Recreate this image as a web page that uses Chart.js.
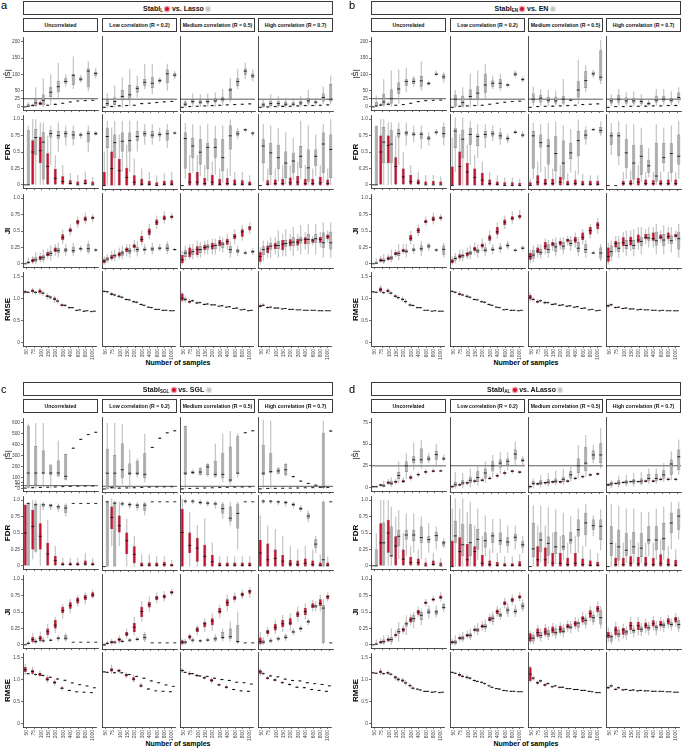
<!DOCTYPE html>
<html>
<head>
<meta charset="utf-8">
<script src="https://cdn.jsdelivr.net/npm/chart.js@4.4.1/dist/chart.umd.min.js"></script>
<style>
  body { margin: 0; background: #fff; font-family: "Liberation Sans", Arial, sans-serif; }
  #fig { position: relative; width: 684px; height: 750px; overflow: hidden; background: #fff; }
  #fig canvas { position: absolute; }
  .frame { position: absolute; box-sizing: border-box; border: 1px solid #3a3a3a; display: flex;
           align-items: center; justify-content: center; font-weight: bold; white-space: nowrap; color: #111; }
  .letter { position: absolute; font-size: 11px; line-height: 11px; color: #000; }
  .xtitle { position: absolute; width: 200px; text-align: center; font-size: 7px; font-weight: bold; color: #000; }
  .dot { display: inline-block; width: 4px; height: 4px; border-radius: 50%; margin: 0 2.5px; vertical-align: -0.5px; }
  .dot.red { background: #d0102e; box-shadow: 0 0 0 1.2px #f3a3ad; }
  .dot.grey { background: #c4c4c4; box-shadow: 0 0 0 1.2px #e4e4e4; }
  .sub { font-size: 4.5px; position: relative; top: 1.5px; }
</style>
</head>
<body>
<div id="fig"></div>
<script>
// boxes are [lower whisker, q1, median, q3, upper whisker], one column of 10 per correlation level
const samples = ['50', '75', '100', '150', '200', '300', '400', '600', '800', '1000'];
const columns = ['Uncorrelated', 'Low correlation (R = 0.2)', 'Medium correlation (R = 0.5)', 'High correlation (R = 0.7)'];
const metrics = ['|Ŝ|', 'FDR', 'JI', 'RMSE'];
const sizeTicksAB = [0, 25, 50, 100, 150, 200];
const sizeTicksC = [0, 25, 50, 100, 200, 300, 400, 500, 600];
const sizeTicksD = [0, 25, 50, 75];
const rateTicks = [0, 0.25, 0.5, 0.75, 1];
const rmseTicks = [0, 0.5, 1, 1.5];

// ---- panel a : Stabl_L vs Lasso
const sizeA_stabl = [
  [[0,0,0,1,3],[1,2,4,7,10],[4,6,10,15,22],[3,4,5,6,8],[5,6,8,9,11],[9,10,11,12,14],[13,14,15,16,18],[17,18,18,19,20],[18,19,19,20,21],[19,20,20,21,22]],
  [[0,0,1,2,4],[1,2,3,5,7],[3,4,5,7,9],[4,5,6,7,9],[5,6,7,8,10],[9,10,12,13,15],[11,12,13,14,16],[13,14,15,16,18],[15,16,17,18,20],[17,18,18,19,21]],
  [[0,0,1,2,3],[1,2,3,4,6],[2,3,4,5,7],[3,4,5,6,7],[3,5,6,7,9],[4,6,7,8,10],[6,7,8,9,11],[7,8,9,10,12],[8,9,10,11,12],[9,10,11,12,13]],
  [[0,0,1,2,3],[0,1,2,3,5],[1,2,3,4,6],[1,2,4,5,7],[2,3,4,5,7],[2,4,5,6,8],[3,5,6,7,9],[4,5,6,7,9],[5,6,7,8,10],[5,7,8,9,11]]
];
const sizeA_other = [
  [[0,0,2,8,15],[0,3,12,25,60],[0,5,20,38,88],[5,30,45,62,100],[25,45,62,80,135],[62,72,78,88,100],[55,68,97,100,155],[75,80,85,90,98],[48,60,110,118,140],[88,96,103,108,120]],
  [[0,5,12,25,42],[0,8,18,30,65],[0,22,33,52,90],[5,22,38,67,115],[30,45,57,65,95],[55,65,75,85,130],[40,58,72,90,130],[70,76,80,84,90],[50,72,100,113,130],[85,92,96,102,108]],
  [[0,5,10,18,25],[2,12,18,25,42],[2,10,16,22,40],[2,12,18,25,42],[2,15,20,28,45],[5,18,25,32,55],[15,25,52,59,88],[55,64,77,87,115],[85,97,108,116,133],[78,87,94,101,113]],
  [[0,2,8,14,25],[0,5,12,20,40],[0,5,12,20,35],[0,5,10,18,30],[2,6,10,16,28],[2,8,14,20,35],[5,12,20,28,52],[5,12,16,20,28],[10,18,30,42,62],[10,18,25,70,95]]
];
const fdrA_stabl = [
  [[0,0,0,0,0],[0,0,0.5,0.68,1.0],[0,0.33,0.52,0.73,0.95],[0,0,0.28,0.48,0.75],[0,0,0.1,0.24,0.45],[0,0,0.05,0.13,0.3],[0,0,0.02,0.07,0.18],[0,0,0,0.05,0.15],[0,0,0.02,0.08,0.2],[0,0,0,0.05,0.12]],
  [[0,0,0,0.2,0.5],[0,0,0.25,0.5,0.85],[0,0,0.22,0.39,0.75],[0,0,0.12,0.26,0.6],[0,0,0.05,0.15,0.4],[0,0,0.02,0.1,0.25],[0,0,0.02,0.07,0.2],[0,0,0,0.05,0.15],[0,0,0.02,0.07,0.18],[0,0,0.02,0.08,0.2]],
  [[0,0,0,0,0],[0,0,0.05,0.19,0.45],[0,0,0.05,0.2,0.45],[0,0,0.03,0.11,0.3],[0,0,0.05,0.16,0.35],[0,0,0.02,0.1,0.25],[0,0,0.03,0.11,0.25],[0,0,0.02,0.09,0.2],[0,0,0.02,0.08,0.2],[0,0,0.02,0.06,0.15]],
  [[0,0,0,0,0],[0,0,0.02,0.08,0.25],[0,0,0.03,0.09,0.25],[0,0,0.03,0.1,0.3],[0,0,0.04,0.12,0.3],[0,0,0.05,0.14,0.35],[0,0,0.03,0.1,0.3],[0,0,0.03,0.1,0.25],[0,0,0.04,0.13,0.3],[0,0,0.03,0.09,0.25]]
];
const fdrA_other = [
  [[0,0,0,0.83,0.9],[0,0.45,0.72,0.85,1.0],[0,0.08,0.65,0.8,0.95],[0.3,0.72,0.78,0.83,0.9],[0.5,0.7,0.75,0.82,0.95],[0.6,0.72,0.78,0.82,0.9],[0.6,0.7,0.76,0.82,0.9],[0.7,0.74,0.76,0.78,0.8],[0.5,0.65,0.78,0.82,0.9],[0.75,0.76,0.78,0.8,0.82]],
  [[0,0.55,0.72,0.85,0.95],[0,0.4,0.63,0.75,0.95],[0.2,0.5,0.65,0.78,0.95],[0.2,0.5,0.66,0.78,0.95],[0.5,0.65,0.72,0.8,0.95],[0.6,0.72,0.76,0.8,0.9],[0.6,0.7,0.74,0.8,0.9],[0.65,0.72,0.75,0.78,0.85],[0.55,0.66,0.76,0.82,0.9],[0.75,0.76,0.77,0.78,0.8]],
  [[0.1,0.25,0.69,0.78,0.92],[0.19,0.41,0.58,0.7,0.9],[0.14,0.31,0.49,0.68,0.88],[0.06,0.24,0.56,0.63,0.9],[0.16,0.41,0.56,0.69,0.88],[0.04,0.21,0.41,0.68,0.88],[0.14,0.53,0.73,0.88,0.97],[0.68,0.73,0.76,0.8,0.85],[0.78,0.8,0.82,0.83,0.85],[0.72,0.75,0.77,0.78,0.8]],
  [[0.06,0.33,0.58,0.68,0.9],[0.01,0.16,0.48,0.63,0.88],[0.06,0.24,0.41,0.6,0.85],[0.02,0.11,0.33,0.5,0.78],[0.08,0.19,0.36,0.48,0.7],[0.09,0.26,0.43,0.58,0.95],[0.01,0.06,0.26,0.53,0.88],[0.14,0.29,0.43,0.53,0.75],[0.04,0.19,0.61,0.78,0.9],[0.01,0.11,0.53,0.75,0.97]]
];
const jiA_stabl = [
  [[0,0,0,0.01,0.02],[0,0.02,0.05,0.08,0.12],[0.03,0.06,0.09,0.12,0.17],[0.08,0.12,0.14,0.18,0.23],[0.12,0.18,0.21,0.25,0.3],[0.3,0.36,0.4,0.45,0.52],[0.43,0.48,0.51,0.54,0.6],[0.55,0.6,0.64,0.67,0.72],[0.6,0.65,0.68,0.72,0.78],[0.63,0.68,0.7,0.72,0.76]],
  [[0,0.02,0.05,0.08,0.12],[0.05,0.08,0.1,0.14,0.2],[0.08,0.12,0.15,0.18,0.25],[0.12,0.18,0.22,0.25,0.3],[0.18,0.24,0.27,0.3,0.36],[0.28,0.33,0.37,0.42,0.5],[0.38,0.43,0.48,0.53,0.6],[0.52,0.58,0.62,0.66,0.72],[0.6,0.65,0.68,0.72,0.78],[0.65,0.68,0.7,0.72,0.76]],
  [[0,0.02,0.07,0.14,0.2],[0.08,0.11,0.17,0.25,0.3],[0.1,0.14,0.22,0.27,0.35],[0.15,0.21,0.25,0.29,0.35],[0.15,0.22,0.27,0.32,0.38],[0.2,0.27,0.32,0.36,0.42],[0.22,0.29,0.34,0.38,0.45],[0.3,0.37,0.41,0.45,0.52],[0.35,0.41,0.48,0.52,0.58],[0.45,0.5,0.55,0.56,0.62]],
  [[0,0.04,0.12,0.19,0.25],[0.1,0.17,0.23,0.28,0.35],[0.15,0.23,0.28,0.32,0.4],[0.12,0.21,0.3,0.36,0.45],[0.2,0.27,0.32,0.37,0.45],[0.2,0.28,0.33,0.38,0.45],[0.22,0.3,0.37,0.4,0.48],[0.28,0.32,0.36,0.38,0.42],[0.25,0.32,0.37,0.41,0.48],[0.32,0.37,0.41,0.44,0.5]]
];
const jiA_other = [
  [[0,0,0.02,0.04,0.1],[0,0.03,0.06,0.1,0.18],[0.02,0.06,0.1,0.13,0.22],[0.05,0.12,0.16,0.2,0.28],[0.1,0.16,0.2,0.24,0.32],[0.12,0.18,0.21,0.24,0.3],[0.12,0.17,0.2,0.26,0.32],[0.18,0.21,0.23,0.25,0.28],[0.15,0.18,0.23,0.3,0.35],[0.18,0.2,0.21,0.22,0.24]],
  [[0.02,0.05,0.08,0.11,0.15],[0.05,0.1,0.13,0.16,0.22],[0.08,0.13,0.17,0.2,0.28],[0.1,0.16,0.2,0.24,0.3],[0.12,0.18,0.22,0.26,0.34],[0.15,0.2,0.22,0.25,0.3],[0.15,0.2,0.23,0.26,0.32],[0.2,0.22,0.24,0.26,0.3],[0.15,0.2,0.24,0.3,0.34],[0.2,0.21,0.22,0.23,0.24]],
  [[0.05,0.11,0.17,0.21,0.28],[0.08,0.14,0.19,0.23,0.3],[0.1,0.17,0.22,0.27,0.33],[0.15,0.22,0.26,0.3,0.36],[0.15,0.23,0.28,0.31,0.38],[0.18,0.24,0.3,0.33,0.4],[0.1,0.17,0.22,0.27,0.35],[0.12,0.17,0.2,0.23,0.28],[0.14,0.16,0.17,0.19,0.21],[0.14,0.17,0.19,0.21,0.24]],
  [[0.05,0.14,0.22,0.27,0.35],[0.1,0.22,0.27,0.32,0.4],[0.1,0.23,0.28,0.35,0.5],[0.12,0.26,0.31,0.36,0.52],[0.12,0.27,0.33,0.4,0.55],[0.15,0.31,0.36,0.41,0.58],[0.15,0.3,0.37,0.45,0.6],[0.15,0.32,0.38,0.45,0.6],[0.1,0.24,0.32,0.47,0.62],[0.1,0.22,0.32,0.48,0.62]]
];
const rmseA_stabl = [
  [[1.1,1.13,1.15,1.17,1.2],[1.1,1.14,1.17,1.2,1.24],[1.08,1.12,1.16,1.2,1.24],[0.98,1.03,1.05,1.08,1.12],[0.9,0.96,0.98,1.02,1.06],[0.8,0.83,0.85,0.87,0.9],[0.76,0.78,0.79,0.8,0.82],[0.71,0.72,0.73,0.74,0.75],[0.69,0.7,0.71,0.72,0.73],[0.69,0.7,0.7,0.71,0.72]],
  [[1.1,1.12,1.13,1.14,1.16],[1.02,1.05,1.07,1.09,1.12],[0.98,1.0,1.02,1.04,1.06],[0.92,0.94,0.95,0.96,0.98],[0.87,0.89,0.9,0.91,0.93],[0.81,0.83,0.84,0.85,0.87],[0.76,0.77,0.78,0.79,0.8],[0.71,0.72,0.73,0.74,0.75],[0.7,0.7,0.71,0.72,0.72],[0.69,0.7,0.7,0.71,0.71]],
  [[0.88,0.92,0.98,1.08,1.12],[0.85,0.88,0.9,0.92,0.96],[0.84,0.86,0.87,0.89,0.92],[0.82,0.83,0.84,0.85,0.87],[0.81,0.82,0.83,0.84,0.85],[0.79,0.8,0.8,0.81,0.82],[0.77,0.78,0.78,0.79,0.8],[0.74,0.75,0.75,0.76,0.77],[0.71,0.72,0.72,0.73,0.74],[0.69,0.7,0.7,0.71,0.71]],
  [[0.76,0.78,0.8,0.83,0.86],[0.75,0.76,0.77,0.78,0.8],[0.74,0.75,0.76,0.77,0.78],[0.73,0.74,0.74,0.75,0.76],[0.72,0.73,0.73,0.74,0.75],[0.71,0.72,0.72,0.73,0.73],[0.7,0.71,0.71,0.72,0.72],[0.7,0.71,0.71,0.71,0.72],[0.69,0.7,0.7,0.71,0.71],[0.69,0.7,0.7,0.7,0.71]]
];
const rmseA_other = [
  [[1.12,1.13,1.14,1.15,1.16],[1.1,1.12,1.14,1.15,1.17],[1.06,1.1,1.12,1.14,1.18],[0.97,1.0,1.03,1.05,1.08],[0.88,0.92,0.94,0.96,1.0],[0.81,0.83,0.84,0.86,0.88],[0.77,0.78,0.79,0.8,0.81],[0.72,0.73,0.74,0.74,0.75],[0.71,0.72,0.72,0.73,0.73],[0.7,0.71,0.71,0.72,0.72]],
  [[1.09,1.11,1.12,1.13,1.14],[1.02,1.04,1.05,1.06,1.08],[0.97,0.99,1.0,1.01,1.03],[0.92,0.93,0.94,0.95,0.97],[0.86,0.88,0.89,0.9,0.92],[0.8,0.81,0.82,0.83,0.85],[0.75,0.76,0.77,0.78,0.79],[0.72,0.72,0.73,0.74,0.74],[0.7,0.71,0.71,0.72,0.72],[0.69,0.7,0.7,0.71,0.71]],
  [[0.88,0.92,0.95,0.98,1.02],[0.89,0.91,0.92,0.93,0.95],[0.85,0.87,0.88,0.89,0.91],[0.83,0.84,0.85,0.86,0.88],[0.81,0.82,0.83,0.84,0.85],[0.79,0.8,0.81,0.82,0.83],[0.77,0.78,0.79,0.8,0.81],[0.75,0.75,0.76,0.77,0.78],[0.72,0.72,0.73,0.74,0.74],[0.7,0.71,0.71,0.72,0.72]],
  [[0.79,0.81,0.82,0.84,0.87],[0.76,0.77,0.78,0.79,0.8],[0.75,0.75,0.76,0.77,0.78],[0.74,0.74,0.75,0.75,0.76],[0.72,0.73,0.73,0.74,0.75],[0.71,0.72,0.72,0.73,0.73],[0.7,0.71,0.71,0.72,0.72],[0.7,0.71,0.71,0.71,0.72],[0.69,0.7,0.7,0.71,0.71],[0.69,0.7,0.7,0.7,0.71]]
];

// ---- panel b : Stabl_EN vs EN
const sizeB_stabl = [
  [[0,0,0,1,2],[3,4,5,8,12],[4,6,8,10,15],[3,4,5,6,7],[5,6,7,8,9],[9,10,11,12,13],[14,15,16,17,18],[17,18,19,20,21],[19,20,20,21,22],[20,20,21,21,22]],
  [[0,0,1,2,3],[1,3,4,5,7],[3,4,5,6,8],[4,5,6,7,9],[5,6,7,8,10],[8,9,10,11,13],[11,12,13,14,16],[14,15,16,17,18],[17,18,18,19,20],[18,19,19,20,21]],
  [[0,0,1,2,3],[1,2,3,4,5],[2,3,4,5,6],[2,3,4,6,7],[3,4,5,6,8],[4,5,6,7,9],[5,6,7,8,10],[7,8,9,10,12],[8,9,10,11,13],[9,10,11,12,14]],
  [[0,0,1,2,3],[1,2,3,4,5],[1,2,3,4,6],[2,3,4,5,7],[2,3,4,5,7],[2,3,4,6,8],[3,4,5,6,8],[3,4,5,6,8],[4,5,6,7,9],[4,5,6,8,10]]
];
const sizeB_other = [
  [[0,0,3,15,35],[0,5,15,40,85],[0,10,25,53,112],[10,40,55,75,115],[45,65,78,85,120],[62,70,78,88,95],[50,62,80,95,140],[65,68,72,76,80],[95,97,100,105,112],[75,85,92,100,108]],
  [[0,3,25,38,52],[0,3,15,35,60],[0,23,33,54,100],[5,27,43,63,110],[25,44,67,100,130],[55,62,72,80,95],[50,58,72,84,100],[60,64,67,70,73],[90,94,99,104,110],[75,80,83,87,92]],
  [[5,15,25,42,62],[5,15,28,38,55],[5,15,22,32,52],[5,12,20,32,50],[5,12,25,35,85],[18,21,22,24,28],[10,30,52,78,142],[45,58,80,108,125],[88,95,100,106,112],[70,80,90,170,200]],
  [[5,12,20,28,40],[5,15,25,38,55],[5,12,20,30,45],[5,12,20,28,48],[5,10,18,25,40],[5,8,12,16,25],[5,15,22,35,55],[8,18,25,35,55],[8,15,22,28,48],[12,22,30,45,60]]
];
const fdrB_stabl = [
  [[0,0,0,0,0],[0,0,0.5,0.75,1.0],[0,0.33,0.6,0.75,0.95],[0,0,0.28,0.42,0.75],[0,0,0.12,0.25,0.5],[0,0,0.05,0.15,0.3],[0,0,0.03,0.08,0.2],[0,0,0,0.05,0.15],[0,0,0,0.06,0.15],[0,0,0,0.05,0.13]],
  [[0,0,0,0.28,0.7],[0,0,0.28,0.5,0.75],[0,0,0.2,0.33,0.6],[0,0,0.12,0.25,0.45],[0,0,0.08,0.19,0.35],[0,0,0.03,0.09,0.2],[0,0,0.02,0.06,0.15],[0,0,0,0.05,0.12],[0,0,0,0.05,0.12],[0,0,0,0.04,0.1]],
  [[0,0,0,0.05,0.1],[0,0,0.05,0.15,0.35],[0,0,0.03,0.1,0.28],[0,0,0.03,0.1,0.25],[0,0,0.05,0.13,0.3],[0,0,0.02,0.07,0.18],[0,0,0.03,0.09,0.22],[0,0,0.02,0.07,0.17],[0,0,0.02,0.07,0.15],[0,0,0.02,0.07,0.15]],
  [[0,0,0,0,0],[0,0,0,0,0],[0,0,0.03,0.07,0.2],[0,0,0.03,0.08,0.22],[0,0,0.05,0.11,0.3],[0,0,0.03,0.09,0.2],[0,0,0.03,0.08,0.2],[0,0,0.03,0.08,0.2],[0,0,0.03,0.09,0.2],[0,0,0.03,0.09,0.2]]
];
const fdrB_other = [
  [[0,0,0,0.9,0.9],[0,0.33,0.65,0.88,1.0],[0,0.33,0.62,0.83,0.95],[0.3,0.72,0.78,0.85,0.95],[0.6,0.75,0.79,0.82,0.95],[0.65,0.74,0.77,0.8,0.9],[0.55,0.7,0.77,0.8,0.9],[0.6,0.68,0.71,0.74,0.8],[0.75,0.78,0.8,0.82,0.85],[0.6,0.72,0.78,0.88,0.95]],
  [[0.2,0.55,0.8,0.85,1.0],[0,0.4,0.68,0.82,1.0],[0.3,0.6,0.75,0.85,0.95],[0.4,0.58,0.72,0.76,0.9],[0.55,0.7,0.75,0.8,0.9],[0.65,0.72,0.76,0.8,0.88],[0.6,0.68,0.73,0.78,0.85],[0.62,0.66,0.69,0.72,0.76],[0.75,0.77,0.78,0.8,0.82],[0.7,0.72,0.74,0.76,0.8]],
  [[0.1,0.25,0.73,0.8,0.92],[0.19,0.56,0.63,0.75,0.9],[0.09,0.31,0.58,0.68,0.92],[0.03,0.21,0.47,0.73,0.94],[0.01,0.09,0.33,0.66,0.88],[0.19,0.39,0.48,0.63,0.83],[0.16,0.43,0.66,0.8,0.97],[0.6,0.68,0.74,0.81,0.87],[0.8,0.81,0.82,0.83,0.85],[0.73,0.77,0.81,0.86,0.94]],
  [[0.45,0.6,0.73,0.78,0.92],[0.3,0.43,0.73,0.78,0.95],[0.1,0.26,0.48,0.68,0.9],[0.02,0.09,0.33,0.6,0.9],[0.05,0.16,0.43,0.59,0.85],[0.12,0.19,0.29,0.38,0.55],[0.01,0.06,0.14,0.63,0.9],[0.2,0.33,0.41,0.63,0.85],[0.05,0.19,0.47,0.62,0.88],[0.1,0.31,0.43,0.75,0.95]]
];
const jiB_stabl = [
  [[0,0,0,0,0.02],[0.02,0.03,0.05,0.08,0.12],[0.04,0.06,0.08,0.11,0.15],[0.1,0.13,0.15,0.18,0.22],[0.15,0.18,0.2,0.23,0.3],[0.3,0.35,0.39,0.44,0.5],[0.42,0.47,0.51,0.55,0.6],[0.58,0.62,0.64,0.67,0.72],[0.6,0.65,0.68,0.72,0.78],[0.65,0.68,0.7,0.72,0.76]],
  [[0,0.02,0.05,0.08,0.12],[0.05,0.09,0.12,0.15,0.22],[0.08,0.12,0.16,0.18,0.25],[0.15,0.2,0.23,0.26,0.33],[0.2,0.25,0.28,0.31,0.38],[0.3,0.35,0.39,0.43,0.5],[0.38,0.44,0.48,0.55,0.62],[0.52,0.58,0.62,0.66,0.72],[0.6,0.65,0.68,0.71,0.78],[0.65,0.68,0.71,0.73,0.8]],
  [[0.02,0.07,0.12,0.17,0.22],[0.1,0.17,0.2,0.25,0.3],[0.15,0.22,0.27,0.33,0.38],[0.2,0.27,0.3,0.33,0.38],[0.22,0.28,0.32,0.35,0.4],[0.28,0.33,0.36,0.38,0.42],[0.25,0.32,0.36,0.41,0.47],[0.3,0.36,0.4,0.47,0.52],[0.38,0.44,0.5,0.55,0.6],[0.45,0.52,0.58,0.62,0.68]],
  [[0,0.04,0.12,0.25,0.32],[0.18,0.25,0.31,0.35,0.42],[0.18,0.27,0.32,0.4,0.48],[0.2,0.28,0.35,0.41,0.5],[0.22,0.32,0.36,0.44,0.55],[0.3,0.37,0.4,0.45,0.52],[0.25,0.35,0.38,0.47,0.55],[0.32,0.37,0.4,0.44,0.5],[0.3,0.37,0.41,0.47,0.55],[0.35,0.4,0.42,0.45,0.5]]
];
const jiB_other = [
  [[0,0,0.01,0.03,0.08],[0,0.02,0.05,0.08,0.15],[0.02,0.06,0.09,0.12,0.22],[0.05,0.12,0.16,0.19,0.3],[0.1,0.16,0.19,0.22,0.3],[0.15,0.19,0.21,0.24,0.3],[0.12,0.19,0.23,0.28,0.35],[0.2,0.24,0.27,0.3,0.32],[0.18,0.2,0.21,0.22,0.24],[0.1,0.14,0.22,0.28,0.32]],
  [[0.02,0.06,0.09,0.12,0.17],[0.05,0.1,0.13,0.16,0.22],[0.08,0.14,0.17,0.2,0.28],[0.1,0.17,0.2,0.23,0.3],[0.12,0.18,0.21,0.25,0.32],[0.15,0.2,0.22,0.25,0.3],[0.17,0.22,0.24,0.27,0.32],[0.22,0.25,0.28,0.31,0.35],[0.18,0.2,0.21,0.22,0.24],[0.2,0.23,0.24,0.26,0.28]],
  [[0.03,0.09,0.14,0.21,0.28],[0.08,0.14,0.18,0.23,0.3],[0.1,0.17,0.22,0.3,0.36],[0.12,0.19,0.26,0.32,0.4],[0.15,0.22,0.27,0.33,0.4],[0.2,0.27,0.31,0.36,0.42],[0.12,0.19,0.24,0.33,0.4],[0.1,0.17,0.22,0.3,0.36],[0.15,0.16,0.17,0.18,0.2],[0.05,0.09,0.17,0.25,0.3]],
  [[0.05,0.12,0.19,0.28,0.35],[0.1,0.19,0.24,0.33,0.42],[0.12,0.23,0.28,0.36,0.5],[0.12,0.23,0.28,0.36,0.52],[0.15,0.27,0.34,0.41,0.55],[0.25,0.35,0.39,0.45,0.55],[0.15,0.28,0.35,0.48,0.6],[0.15,0.27,0.36,0.45,0.58],[0.18,0.3,0.35,0.43,0.55],[0.1,0.22,0.38,0.48,0.6]]
];
const rmseB_stabl = [
  [[1.12,1.14,1.15,1.16,1.17],[1.12,1.15,1.2,1.25,1.3],[1.1,1.14,1.17,1.2,1.24],[1.0,1.03,1.05,1.07,1.1],[0.92,0.96,0.98,1.0,1.04],[0.81,0.84,0.85,0.87,0.9],[0.77,0.78,0.79,0.8,0.81],[0.72,0.73,0.73,0.74,0.75],[0.7,0.71,0.71,0.72,0.72],[0.7,0.7,0.71,0.71,0.72]],
  [[1.1,1.12,1.13,1.14,1.16],[1.02,1.05,1.07,1.09,1.13],[0.98,1.0,1.02,1.04,1.07],[0.92,0.94,0.95,0.96,0.98],[0.87,0.89,0.9,0.91,0.93],[0.81,0.83,0.84,0.85,0.87],[0.76,0.77,0.78,0.79,0.8],[0.71,0.72,0.72,0.73,0.74],[0.7,0.7,0.71,0.72,0.72],[0.69,0.7,0.7,0.71,0.71]],
  [[0.9,0.95,1.0,1.05,1.1],[0.86,0.88,0.9,0.92,0.95],[0.84,0.86,0.88,0.9,0.92],[0.82,0.83,0.84,0.85,0.87],[0.8,0.81,0.82,0.83,0.85],[0.78,0.79,0.8,0.81,0.82],[0.76,0.77,0.78,0.79,0.8],[0.74,0.75,0.75,0.76,0.77],[0.71,0.72,0.72,0.73,0.74],[0.69,0.7,0.7,0.71,0.71]],
  [[0.77,0.79,0.81,0.83,0.86],[0.75,0.76,0.77,0.78,0.8],[0.74,0.74,0.75,0.76,0.77],[0.73,0.73,0.74,0.75,0.76],[0.71,0.72,0.72,0.73,0.74],[0.71,0.71,0.72,0.72,0.73],[0.7,0.71,0.71,0.72,0.72],[0.69,0.7,0.7,0.71,0.71],[0.69,0.7,0.7,0.7,0.71],[0.69,0.69,0.7,0.7,0.71]]
];
const rmseB_other = [
  [[1.12,1.13,1.14,1.15,1.16],[1.1,1.12,1.13,1.15,1.17],[1.07,1.1,1.12,1.14,1.17],[0.97,1.0,1.02,1.04,1.07],[0.88,0.91,0.93,0.95,0.99],[0.81,0.83,0.84,0.85,0.87],[0.77,0.78,0.79,0.8,0.81],[0.72,0.73,0.73,0.74,0.75],[0.71,0.72,0.72,0.73,0.73],[0.7,0.71,0.71,0.72,0.72]],
  [[1.08,1.1,1.11,1.12,1.14],[1.02,1.04,1.05,1.06,1.08],[0.97,0.99,1.0,1.01,1.03],[0.92,0.93,0.94,0.95,0.97],[0.86,0.88,0.89,0.9,0.92],[0.8,0.81,0.82,0.83,0.85],[0.75,0.76,0.77,0.78,0.79],[0.72,0.72,0.73,0.74,0.74],[0.7,0.71,0.71,0.72,0.72],[0.7,0.7,0.71,0.71,0.72]],
  [[0.9,0.93,0.95,0.97,1.0],[0.89,0.91,0.92,0.93,0.95],[0.85,0.87,0.88,0.89,0.91],[0.83,0.84,0.85,0.86,0.88],[0.81,0.82,0.83,0.84,0.85],[0.79,0.8,0.81,0.82,0.83],[0.77,0.78,0.79,0.8,0.81],[0.75,0.75,0.76,0.77,0.78],[0.72,0.72,0.73,0.74,0.74],[0.7,0.71,0.71,0.72,0.72]],
  [[0.8,0.82,0.83,0.85,0.87],[0.76,0.77,0.78,0.79,0.8],[0.75,0.75,0.76,0.77,0.78],[0.73,0.74,0.74,0.75,0.76],[0.72,0.72,0.73,0.74,0.75],[0.71,0.72,0.72,0.73,0.73],[0.7,0.71,0.71,0.72,0.72],[0.7,0.7,0.71,0.71,0.72],[0.69,0.7,0.7,0.71,0.71],[0.69,0.7,0.7,0.7,0.71]]
];

// ---- panel c : Stabl_SGL vs SGL
const sizeC_stabl = [
  [[0,0,2,5,10],[0,3,6,10,15],[3,6,9,12,16],[5,8,11,13,16],[8,11,13,15,18],[12,14,16,18,20],[15,17,18,20,22],[18,19,20,21,23],[19,20,21,22,24],[20,21,22,23,24]],
  [[0,0,1,3,6],[5,8,12,18,30],[3,6,9,12,16],[5,8,11,13,16],[8,10,12,14,17],[11,13,15,17,19],[14,16,18,19,21],[17,18,19,20,22],[18,19,20,21,23],[19,20,21,22,24]],
  [[0,0,2,6,12],[2,4,6,8,10],[4,6,8,10,12],[6,8,10,12,14],[8,10,12,13,15],[10,12,14,15,17],[12,14,16,17,19],[14,16,18,19,21],[16,18,19,20,22],[18,19,20,21,23]],
  [[0,0,2,5,8],[2,4,6,9,12],[3,5,7,9,12],[4,6,8,10,12],[5,7,9,11,13],[6,8,10,12,14],[8,10,12,13,15],[9,11,13,14,16],[10,12,14,15,17],[11,13,15,16,18]]
];
const sizeC_other = [
  [[0,5,140,570,590],[0,30,140,385,595],[10,135,140,345,595],[0,125,140,215,225],[100,110,140,255,435],[70,78,110,313,320],[360,363,366,369,372],[440,443,447,450,453],[485,488,490,493,496],[505,508,511,514,518]],
  [[0,0,140,355,580],[0,5,140,300,580],[40,95,170,400,570],[0,125,140,225,345],[100,125,140,250,270],[60,95,130,315,485],[360,363,366,369,372],[440,443,447,450,453],[488,491,494,497,500],[505,508,512,515,520]],
  [[0,124,140,553,560],[130,136,146,160,175],[120,125,150,183,195],[110,125,195,220,230],[100,110,130,250,400],[60,95,130,315,490],[40,65,80,375,510],[100,140,140,465,490],[490,492,495,498,500],[505,508,512,515,520]],
  [[0,124,140,390,610],[0,139,154,316,600],[130,135,160,183,195],[110,124,170,220,230],[100,105,110,115,120],[65,68,71,74,78],[45,48,50,53,56],[28,32,35,38,42],[0,10,20,495,600],[500,505,510,515,520]]
];
const fdrC_stabl = [
  [[0,0,0.5,0.93,0.95],[0.1,0.25,0.6,0.85,1.0],[0,0.25,0.45,0.65,0.95],[0,0,0.18,0.35,0.7],[0,0,0.08,0.15,0.3],[0,0,0.02,0.05,0.12],[0,0,0.02,0.05,0.12],[0,0,0.02,0.05,0.12],[0,0,0.03,0.08,0.2],[0,0,0.02,0.05,0.12]],
  [[0,0,0,0,0],[0.3,0.55,0.72,0.88,1.0],[0.3,0.5,0.6,0.75,0.95],[0,0.18,0.38,0.5,0.7],[0,0.05,0.18,0.3,0.45],[0,0,0.02,0.06,0.18],[0,0,0.02,0.06,0.18],[0,0,0.02,0.06,0.15],[0,0,0.03,0.07,0.15],[0,0,0.02,0.04,0.1]],
  [[0,0,0.5,0.85,1.0],[0,0.2,0.31,0.5,0.8],[0,0.07,0.27,0.42,0.61],[0,0,0.15,0.32,0.71],[0,0,0.07,0.17,0.35],[0,0,0.02,0.06,0.15],[0,0,0.02,0.06,0.15],[0,0,0.02,0.06,0.15],[0,0,0.02,0.06,0.15],[0,0,0.02,0.06,0.15]],
  [[0,0,0.2,0.39,0.75],[0,0,0.1,0.34,0.6],[0,0,0.12,0.25,0.55],[0,0,0.08,0.17,0.45],[0,0,0.04,0.1,0.3],[0,0,0.03,0.09,0.25],[0,0,0.05,0.12,0.3],[0,0,0.03,0.09,0.25],[0,0,0.02,0.06,0.18],[0,0,0.02,0.06,0.15]]
];
const fdrC_other = [
  [[0,0,0.95,0.95,0.97],[0.2,0.22,0.93,0.95,1.0],[0.85,0.9,0.93,0.95,0.97],[0.85,0.89,0.92,0.94,0.95],[0.82,0.86,0.9,0.92,0.95],[0.75,0.8,0.88,0.93,0.95],[0.95,0.95,0.95,0.95,0.95],[0.95,0.95,0.95,0.95,0.95],[0.95,0.95,0.95,0.95,0.95],[0.95,0.95,0.95,0.95,0.95]],
  [[0,0,0.95,0.95,0.97],[0,0,0.93,0.95,0.97],[0.88,0.9,0.92,0.94,0.96],[0.85,0.88,0.91,0.93,0.95],[0.82,0.86,0.9,0.92,0.95],[0.75,0.82,0.9,0.93,0.95],[0.95,0.95,0.95,0.95,0.95],[0.95,0.95,0.95,0.95,0.95],[0.95,0.95,0.95,0.95,0.95],[0.95,0.95,0.95,0.95,0.95]],
  [[0.92,0.94,0.96,0.97,1.0],[0.92,0.94,0.96,0.97,0.99],[0.9,0.92,0.94,0.96,0.98],[0.88,0.91,0.93,0.95,0.97],[0.85,0.9,0.92,0.94,0.96],[0.7,0.78,0.85,0.92,0.95],[0.6,0.66,0.71,0.88,0.95],[0.25,0.56,0.78,0.92,0.95],[0.95,0.95,0.95,0.95,0.95],[0.95,0.95,0.95,0.95,0.95]],
  [[0.92,0.94,0.96,0.97,0.99],[0.92,0.94,0.96,0.97,0.98],[0.9,0.93,0.95,0.96,0.98],[0.88,0.92,0.94,0.96,0.97],[0.86,0.89,0.91,0.93,0.95],[0.8,0.83,0.85,0.87,0.9],[0.65,0.7,0.74,0.78,0.82],[0.2,0.27,0.33,0.4,0.45],[0,0,0.1,0.95,0.97],[0.95,0.95,0.95,0.95,0.95]]
];
const jiC_stabl = [
  [[0,0,0,0.01,0.02],[0.02,0.04,0.08,0.12,0.18],[0.03,0.06,0.1,0.14,0.2],[0.1,0.15,0.2,0.25,0.32],[0.18,0.25,0.3,0.38,0.42],[0.4,0.48,0.52,0.58,0.62],[0.48,0.55,0.6,0.65,0.7],[0.58,0.63,0.68,0.72,0.76],[0.62,0.68,0.72,0.76,0.8],[0.7,0.73,0.76,0.8,0.84]],
  [[0,0,0.01,0.02,0.04],[0.01,0.03,0.05,0.07,0.1],[0.03,0.06,0.09,0.11,0.15],[0.1,0.14,0.17,0.2,0.25],[0.15,0.2,0.27,0.33,0.42],[0.35,0.42,0.5,0.57,0.65],[0.5,0.56,0.6,0.64,0.72],[0.62,0.67,0.7,0.73,0.78],[0.65,0.69,0.72,0.75,0.8],[0.73,0.76,0.78,0.8,0.83]],
  [[0,0.02,0.05,0.08,0.1],[0.08,0.1,0.13,0.15,0.18],[0.15,0.2,0.23,0.27,0.3],[0.2,0.27,0.32,0.35,0.4],[0.22,0.3,0.36,0.4,0.47],[0.4,0.47,0.5,0.55,0.6],[0.5,0.58,0.63,0.68,0.75],[0.63,0.67,0.7,0.73,0.78],[0.68,0.72,0.75,0.78,0.82],[0.7,0.76,0.8,0.82,0.86]],
  [[0,0.02,0.06,0.12,0.2],[0.13,0.17,0.2,0.23,0.27],[0.17,0.22,0.27,0.32,0.38],[0.2,0.27,0.32,0.38,0.45],[0.22,0.3,0.33,0.4,0.48],[0.35,0.42,0.46,0.5,0.57],[0.38,0.45,0.5,0.55,0.62],[0.5,0.55,0.58,0.62,0.67],[0.5,0.58,0.62,0.68,0.75],[0.65,0.68,0.72,0.74,0.78]]
];
const jiC_other = [
  [[0,0.01,0.02,0.04,0.06],[0.01,0.03,0.05,0.07,0.1],[0.03,0.05,0.06,0.08,0.12],[0.05,0.06,0.07,0.08,0.1],[0.05,0.08,0.1,0.12,0.15],[0.05,0.07,0.1,0.15,0.18],[0.04,0.04,0.04,0.04,0.04],[0.04,0.04,0.04,0.04,0.04],[0.04,0.04,0.04,0.04,0.04],[0.04,0.04,0.04,0.04,0.04]],
  [[0.01,0.02,0.03,0.05,0.07],[0.02,0.03,0.05,0.06,0.08],[0.04,0.05,0.06,0.08,0.1],[0.05,0.06,0.08,0.09,0.11],[0.06,0.08,0.09,0.11,0.13],[0.05,0.08,0.12,0.17,0.2],[0.04,0.04,0.04,0.04,0.04],[0.04,0.04,0.04,0.04,0.04],[0.04,0.04,0.04,0.04,0.04],[0.04,0.04,0.04,0.04,0.04]],
  [[0.01,0.03,0.05,0.07,0.1],[0.04,0.06,0.08,0.09,0.12],[0.04,0.06,0.07,0.08,0.1],[0.05,0.07,0.08,0.1,0.12],[0.05,0.07,0.1,0.13,0.17],[0.06,0.1,0.12,0.2,0.25],[0.06,0.1,0.13,0.25,0.35],[0.02,0.04,0.06,0.3,0.5],[0.04,0.04,0.04,0.04,0.04],[0.04,0.04,0.04,0.04,0.04]],
  [[0.01,0.03,0.05,0.08,0.12],[0.03,0.05,0.07,0.09,0.12],[0.06,0.08,0.1,0.12,0.14],[0.07,0.1,0.12,0.15,0.18],[0.15,0.18,0.2,0.22,0.25],[0.2,0.23,0.25,0.27,0.3],[0.3,0.33,0.35,0.37,0.4],[0.5,0.55,0.58,0.6,0.65],[0.02,0.04,0.55,0.6,0.68],[0.04,0.04,0.04,0.04,0.04]]
];
const rmseC_stabl = [
  [[1.1,1.17,1.22,1.28,1.35],[1.1,1.13,1.18,1.22,1.28],[1.05,1.08,1.12,1.15,1.2],[0.92,0.97,1.0,1.05,1.1],[0.85,0.9,0.93,0.96,1.0],[0.74,0.78,0.8,0.82,0.85],[0.73,0.74,0.75,0.76,0.77],[0.7,0.71,0.72,0.72,0.73],[0.7,0.7,0.71,0.71,0.72],[0.69,0.7,0.7,0.71,0.71]],
  [[1.12,1.13,1.14,1.15,1.16],[1.1,1.15,1.18,1.22,1.3],[1.1,1.14,1.17,1.19,1.22],[1.0,1.04,1.07,1.1,1.14],[0.9,0.95,0.98,1.02,1.08],[0.78,0.81,0.83,0.86,0.9],[0.74,0.75,0.76,0.77,0.78],[0.71,0.72,0.72,0.73,0.73],[0.7,0.7,0.71,0.71,0.72],[0.69,0.7,0.7,0.71,0.71]],
  [[1.12,1.15,1.17,1.19,1.22],[1.05,1.08,1.1,1.12,1.16],[1.02,1.04,1.06,1.08,1.1],[0.97,0.99,1.01,1.03,1.05],[0.88,0.92,0.95,0.98,1.02],[0.82,0.84,0.85,0.87,0.9],[0.76,0.78,0.8,0.82,0.86],[0.73,0.74,0.75,0.76,0.77],[0.7,0.71,0.72,0.73,0.74],[0.7,0.7,0.71,0.72,0.72]],
  [[1.05,1.1,1.14,1.18,1.22],[0.96,0.98,1.0,1.02,1.05],[0.92,0.94,0.96,0.98,1.0],[0.87,0.89,0.9,0.92,0.94],[0.83,0.85,0.86,0.88,0.9],[0.78,0.79,0.8,0.81,0.83],[0.77,0.78,0.79,0.8,0.81],[0.73,0.74,0.75,0.76,0.77],[0.72,0.72,0.73,0.74,0.75],[0.7,0.7,0.71,0.72,0.72]]
];
const rmseC_other = [
  [[1.11,1.12,1.13,1.14,1.15],[1.09,1.1,1.11,1.12,1.14],[1.06,1.08,1.09,1.1,1.12],[1.03,1.04,1.05,1.06,1.07],[0.99,1.0,1.01,1.02,1.03],[0.95,0.97,0.98,0.99,1.0],[0.91,0.92,0.92,0.93,0.94],[0.87,0.88,0.88,0.89,0.9],[0.84,0.85,0.85,0.86,0.86],[0.8,0.81,0.81,0.82,0.82]],
  [[1.11,1.12,1.13,1.14,1.15],[1.1,1.11,1.12,1.13,1.14],[1.1,1.11,1.12,1.13,1.14],[1.06,1.07,1.08,1.09,1.1],[1.02,1.03,1.04,1.05,1.06],[0.98,0.99,1.0,1.01,1.02],[0.92,0.93,0.94,0.95,0.96],[0.88,0.89,0.9,0.9,0.91],[0.84,0.85,0.85,0.86,0.86],[0.81,0.82,0.82,0.83,0.83]],
  [[1.11,1.12,1.13,1.14,1.15],[1.08,1.09,1.1,1.11,1.12],[1.03,1.04,1.05,1.06,1.07],[1.02,1.03,1.04,1.05,1.06],[0.98,0.99,1.0,1.01,1.02],[0.95,0.96,0.97,0.98,0.99],[0.93,0.94,0.95,0.96,0.97],[0.9,0.91,0.91,0.92,0.93],[0.89,0.9,0.9,0.91,0.92],[0.86,0.87,0.87,0.88,0.88]],
  [[1.07,1.09,1.1,1.12,1.15],[1.03,1.04,1.05,1.06,1.08],[1.01,1.02,1.03,1.04,1.05],[0.96,0.97,0.98,0.99,1.0],[0.93,0.94,0.95,0.96,0.97],[0.92,0.93,0.94,0.95,0.96],[0.88,0.89,0.9,0.91,0.92],[0.86,0.87,0.88,0.88,0.89],[0.85,0.85,0.86,0.87,0.87],[0.82,0.82,0.83,0.84,0.84]]
];

// ---- panel d : Stabl_AL vs ALasso
const sizeD_stabl = [
  [[0,0.5,1,1.5,2],[1,2,3,4,5],[3,4,6,7,10],[4,5,7,8,10],[5,6,7,9,12],[8,10,12,13,15],[12,14,15,16,18],[15,17,18,19,21],[17,18,19,20,22],[18,19,19,20,21]],
  [[0,1,2,3,4],[2,3,4,5,6],[3,5,6,7,9],[5,7,8,9,11],[7,8,9,10,12],[9,10,11,12,14],[11,13,14,15,17],[14,16,17,18,20],[16,18,19,20,21],[16,17,18,19,20]],
  [[0,1,2,3,4],[3,4,5,6,7],[4,5,6.5,7,8],[5,6,7.5,8,9],[5,6,7.5,8,9],[6,7,8,9,10],[9,10,11,12,13],[11,12,13,14,15],[13,14,15,16,17],[14,15,16,17,18]],
  [[2,3,4,5,6],[4,5,5.5,6,7],[5,6,6.7,7,8],[6,7,7.4,8,9],[6,7,7.4,8,9],[6,7,8,9,10],[6,7,8,9,10],[8,9,10,11,12],[8,9,10,11,12],[8,9,10,11,12]]
];
const sizeD_other = [
  [[0,0.5,1,1.5,2],[0,1,2,4,8],[1,3,5,8,12],[5,10,14,18,30],[10,18,25,30,40],[20,28,32,36,52],[22,28,32,45,55],[28,31,33,36,40],[25,32,38,42,50],[30,32,33,35,38]],
  [[0,2,4,7,18],[0,4,6,9,17],[1,6,9,13,22],[3,7,12,19,26],[6,11,17,22,30],[12,19,25,30,37],[16,23,28,32,40],[20,26,30,33,40],[25,32,38,43,52],[25,29,31,33,36]],
  [[0,4,5.5,8,11],[1,4,6,9,15],[2,4.5,7,10,17],[3,6,8,11,20],[4,7,10,13,22],[8,11,15,19,24],[11,17,25,33,48],[13,19,28,46,59],[28,32,37,42,48],[22,28,37,50,67]],
  [[0,3,5,7,9],[1,4,6,9,14],[2,4.5,7,9,15],[2,5,8,10,17],[3,5,8,11,18],[5,8,11,16,22],[5,8,11,16,22],[7,11,15,20,28],[9,15,27,32,41],[15,20,35,43,54]]
];
const fdrD_stabl = [
  [[0,0,0,0,0],[0,0,0.35,0.65,1.0],[0,0.2,0.5,0.7,1.0],[0,0,0.3,0.45,0.75],[0,0,0.1,0.25,0.5],[0,0,0.05,0.14,0.3],[0,0,0.05,0.11,0.25],[0,0,0,0.05,0.12],[0,0,0.02,0.08,0.2],[0,0,0,0.05,0.12]],
  [[0,0,0,0.38,0.85],[0,0,0.22,0.43,0.85],[0,0,0.1,0.33,0.8],[0,0,0.22,0.3,0.6],[0,0,0.05,0.17,0.45],[0,0,0.03,0.09,0.25],[0,0,0.02,0.07,0.2],[0,0,0.02,0.05,0.15],[0,0,0.02,0.05,0.15],[0,0,0.02,0.08,0.18]],
  [[0,0,0,0,0],[0,0,0.1,0.3,0.6],[0,0,0.1,0.28,0.6],[0,0,0.05,0.2,0.5],[0,0,0.05,0.2,0.45],[0,0,0.03,0.13,0.35],[0,0,0.05,0.2,0.45],[0,0,0.03,0.12,0.3],[0,0,0.02,0.09,0.25],[0,0,0.02,0.07,0.2]],
  [[0,0,0,0,0],[0,0,0.03,0.13,0.35],[0,0,0.03,0.13,0.35],[0,0,0.05,0.15,0.4],[0,0,0.04,0.14,0.35],[0,0,0.04,0.14,0.35],[0,0,0.03,0.13,0.35],[0,0,0.05,0.18,0.4],[0,0,0.03,0.12,0.3],[0,0,0.02,0.1,0.25]]
];
const fdrD_other = [
  [[0,0,0,0.25,0.5],[0,0,0.35,0.66,1.0],[0,0.15,0.15,0.6,0.9],[0.1,0.3,0.45,0.55,0.85],[0.15,0.4,0.47,0.55,0.8],[0.2,0.38,0.47,0.55,0.8],[0.1,0.35,0.43,0.6,0.75],[0.2,0.35,0.4,0.45,0.65],[0.25,0.38,0.46,0.52,0.6],[0.27,0.3,0.35,0.38,0.42]],
  [[0,0.35,0.45,0.67,1.0],[0,0.15,0.32,0.63,1.0],[0,0.15,0.35,0.62,0.95],[0.1,0.25,0.4,0.55,0.85],[0.15,0.28,0.38,0.5,0.75],[0.2,0.35,0.45,0.5,0.7],[0.2,0.32,0.38,0.5,0.7],[0.2,0.3,0.36,0.43,0.6],[0.25,0.37,0.43,0.48,0.6],[0.2,0.28,0.32,0.37,0.45]],
  [[0,0.14,0.26,0.64,0.9],[0.06,0.21,0.39,0.5,0.89],[0.04,0.16,0.34,0.44,0.87],[0.04,0.19,0.29,0.51,0.84],[0.09,0.24,0.29,0.46,0.79],[0.19,0.34,0.39,0.51,0.74],[0.2,0.44,0.54,0.69,0.85],[0.29,0.46,0.64,0.79,0.92],[0.45,0.54,0.6,0.69,0.75],[0.24,0.39,0.59,0.69,0.84]],
  [[0,0.16,0.34,0.59,0.92],[0,0.09,0.29,0.54,0.89],[0.05,0.16,0.24,0.49,0.85],[0.05,0.19,0.29,0.51,0.85],[0.05,0.14,0.27,0.49,0.8],[0.15,0.34,0.39,0.59,0.8],[0.1,0.24,0.39,0.59,0.85],[0.1,0.24,0.41,0.64,0.88],[0.25,0.49,0.64,0.79,0.95],[0.4,0.54,0.74,0.84,0.95]]
];
const jiD_stabl = [
  [[0,0,0,0.01,0.02],[0.01,0.02,0.04,0.06,0.1],[0.04,0.05,0.08,0.1,0.15],[0.1,0.13,0.15,0.17,0.22],[0.16,0.2,0.23,0.26,0.3],[0.3,0.34,0.38,0.42,0.47],[0.42,0.46,0.5,0.53,0.58],[0.58,0.62,0.64,0.66,0.7],[0.65,0.67,0.69,0.71,0.75],[0.66,0.7,0.72,0.75,0.8]],
  [[0.01,0.03,0.05,0.07,0.1],[0.06,0.09,0.11,0.13,0.17],[0.1,0.13,0.15,0.17,0.22],[0.18,0.21,0.23,0.25,0.3],[0.22,0.26,0.28,0.31,0.36],[0.33,0.36,0.38,0.42,0.47],[0.42,0.46,0.5,0.53,0.58],[0.55,0.59,0.62,0.65,0.7],[0.6,0.64,0.67,0.7,0.75],[0.65,0.69,0.71,0.74,0.78]],
  [[0.02,0.06,0.11,0.18,0.22],[0.1,0.13,0.19,0.25,0.3],[0.12,0.15,0.2,0.26,0.32],[0.14,0.18,0.23,0.28,0.33],[0.15,0.19,0.24,0.29,0.34],[0.2,0.25,0.28,0.32,0.37],[0.24,0.28,0.32,0.36,0.42],[0.3,0.34,0.4,0.43,0.5],[0.36,0.41,0.47,0.52,0.58],[0.42,0.49,0.54,0.58,0.65]],
  [[0.05,0.11,0.15,0.2,0.27],[0.1,0.15,0.23,0.28,0.35],[0.1,0.16,0.23,0.26,0.32],[0.17,0.23,0.29,0.35,0.42],[0.15,0.23,0.29,0.35,0.42],[0.18,0.25,0.3,0.34,0.4],[0.22,0.28,0.32,0.37,0.43],[0.22,0.28,0.31,0.36,0.42],[0.25,0.31,0.36,0.4,0.45],[0.28,0.34,0.39,0.42,0.48]]
];
const jiD_other = [
  [[0,0,0.01,0.03,0.08],[0,0.02,0.05,0.08,0.15],[0,0.04,0.08,0.12,0.25],[0.05,0.17,0.2,0.25,0.35],[0.15,0.28,0.32,0.35,0.45],[0.25,0.35,0.4,0.45,0.5],[0.3,0.38,0.45,0.5,0.55],[0.4,0.47,0.5,0.55,0.6],[0.42,0.46,0.5,0.53,0.6],[0.5,0.54,0.57,0.62,0.65]],
  [[0,0.02,0.05,0.08,0.15],[0.05,0.08,0.11,0.14,0.2],[0.08,0.12,0.15,0.18,0.25],[0.15,0.2,0.23,0.26,0.33],[0.2,0.25,0.28,0.32,0.38],[0.3,0.35,0.4,0.44,0.5],[0.38,0.42,0.45,0.48,0.55],[0.42,0.47,0.52,0.56,0.62],[0.42,0.47,0.5,0.54,0.6],[0.5,0.54,0.58,0.62,0.68]],
  [[0.02,0.06,0.11,0.16,0.2],[0.06,0.11,0.15,0.2,0.25],[0.08,0.13,0.17,0.23,0.28],[0.1,0.15,0.19,0.25,0.3],[0.12,0.18,0.21,0.26,0.32],[0.18,0.24,0.27,0.31,0.36],[0.2,0.26,0.33,0.35,0.4],[0.25,0.31,0.37,0.41,0.46],[0.3,0.35,0.41,0.45,0.5],[0.25,0.31,0.41,0.52,0.58]],
  [[0.02,0.06,0.13,0.16,0.2],[0.06,0.13,0.17,0.23,0.28],[0.08,0.15,0.2,0.23,0.28],[0.12,0.18,0.22,0.25,0.3],[0.14,0.2,0.24,0.28,0.33],[0.15,0.22,0.26,0.3,0.35],[0.15,0.22,0.27,0.3,0.36],[0.2,0.26,0.3,0.34,0.38],[0.22,0.28,0.31,0.35,0.4],[0.2,0.25,0.31,0.37,0.42]]
];
const rmseD_stabl = [
  [[1.12,1.14,1.15,1.16,1.18],[1.1,1.14,1.17,1.2,1.26],[1.1,1.13,1.15,1.17,1.2],[0.98,1.02,1.05,1.07,1.1],[0.92,0.95,0.98,1.0,1.04],[0.8,0.84,0.86,0.88,0.92],[0.75,0.77,0.78,0.79,0.81],[0.71,0.72,0.73,0.74,0.75],[0.7,0.7,0.71,0.72,0.72],[0.69,0.7,0.7,0.71,0.71]],
  [[1.11,1.12,1.13,1.14,1.15],[1.02,1.05,1.08,1.1,1.14],[0.97,1.0,1.02,1.04,1.08],[0.92,0.94,0.95,0.96,0.98],[0.88,0.9,0.91,0.92,0.94],[0.8,0.82,0.83,0.84,0.86],[0.75,0.76,0.77,0.78,0.79],[0.71,0.72,0.73,0.74,0.74],[0.7,0.7,0.71,0.72,0.72],[0.69,0.7,0.7,0.71,0.71]],
  [[0.9,0.94,1.09,1.24,1.28],[0.85,0.88,0.9,0.92,0.95],[0.81,0.83,0.85,0.87,0.9],[0.78,0.8,0.81,0.82,0.84],[0.77,0.79,0.8,0.81,0.82],[0.75,0.76,0.77,0.78,0.79],[0.73,0.74,0.75,0.76,0.77],[0.71,0.72,0.73,0.74,0.75],[0.7,0.7,0.71,0.72,0.72],[0.67,0.68,0.68,0.69,0.7]],
  [[0.75,0.77,0.79,0.81,0.84],[0.73,0.74,0.75,0.77,0.79],[0.72,0.73,0.74,0.75,0.77],[0.71,0.72,0.73,0.74,0.75],[0.7,0.71,0.72,0.73,0.74],[0.7,0.71,0.72,0.73,0.74],[0.7,0.7,0.71,0.72,0.73],[0.69,0.7,0.71,0.71,0.72],[0.69,0.69,0.7,0.7,0.71],[0.68,0.69,0.69,0.7,0.7]]
];
const rmseD_other = [
  [[1.12,1.13,1.14,1.15,1.16],[1.1,1.12,1.13,1.14,1.16],[1.08,1.1,1.12,1.13,1.15],[0.94,0.97,1.0,1.03,1.06],[0.86,0.9,0.92,0.95,0.98],[0.76,0.78,0.8,0.82,0.85],[0.74,0.75,0.76,0.77,0.78],[0.72,0.72,0.73,0.74,0.74],[0.71,0.71,0.72,0.72,0.73],[0.7,0.7,0.71,0.71,0.72]],
  [[1.09,1.1,1.11,1.12,1.13],[1.0,1.02,1.04,1.06,1.08],[0.96,0.98,1.0,1.02,1.04],[0.9,0.92,0.93,0.94,0.96],[0.85,0.87,0.88,0.89,0.91],[0.78,0.79,0.8,0.81,0.82],[0.74,0.75,0.76,0.77,0.78],[0.71,0.72,0.72,0.73,0.73],[0.7,0.7,0.71,0.71,0.72],[0.69,0.7,0.7,0.71,0.71]],
  [[0.95,0.97,1.0,1.03,1.06],[0.9,0.92,0.94,0.96,0.98],[0.85,0.87,0.88,0.9,0.92],[0.81,0.82,0.83,0.84,0.86],[0.78,0.79,0.8,0.81,0.82],[0.75,0.76,0.77,0.78,0.79],[0.73,0.74,0.75,0.76,0.77],[0.71,0.72,0.73,0.74,0.75],[0.69,0.7,0.7,0.71,0.71],[0.67,0.68,0.68,0.69,0.7]],
  [[0.79,0.81,0.83,0.85,0.88],[0.76,0.77,0.79,0.8,0.82],[0.73,0.74,0.75,0.76,0.78],[0.72,0.73,0.74,0.75,0.76],[0.71,0.72,0.73,0.74,0.75],[0.71,0.71,0.72,0.73,0.74],[0.7,0.71,0.71,0.72,0.73],[0.7,0.7,0.71,0.71,0.72],[0.69,0.69,0.7,0.7,0.71],[0.68,0.69,0.69,0.7,0.7]]
];

// layout (pixels, relative to each panel's corner)
const colX = [[23, 98], [102, 177], [180, 255], [258, 333]];
const rowTop = [36, 114, 193, 271];
const rowH = 75;
const RED = '#c8102e', GREY = '#adadad';

const panels = [
  { letter: 'a', sub: 'L', rival: 'Lasso', ox: 0, oy: 0, ly: 0,
    rows: [[sizeA_stabl, sizeA_other], [fdrA_stabl, fdrA_other], [jiA_stabl, jiA_other], [rmseA_stabl, rmseA_other]],
    sizeTicks: sizeTicksAB, sizeRange: [-10, 212] },
  { letter: 'b', sub: 'EN', rival: 'EN', ox: 348, oy: 0, ly: 0,
    rows: [[sizeB_stabl, sizeB_other], [fdrB_stabl, fdrB_other], [jiB_stabl, jiB_other], [rmseB_stabl, rmseB_other]],
    sizeTicks: sizeTicksAB, sizeRange: [-10, 212] },
  { letter: 'c', sub: 'SGL', rival: 'SGL', ox: 0, oy: 381, ly: 3,
    rows: [[sizeC_stabl, sizeC_other], [fdrC_stabl, fdrC_other], [jiC_stabl, jiC_other], [rmseC_stabl, rmseC_other]],
    sizeTicks: sizeTicksC, sizeRange: [-25, 633] },
  { letter: 'd', sub: 'AL', rival: 'ALasso', ox: 348, oy: 381, ly: 3,
    rows: [[sizeD_stabl, sizeD_other], [fdrD_stabl, fdrD_other], [jiD_stabl, jiD_other], [rmseD_stabl, rmseD_other]],
    sizeTicks: sizeTicksD, sizeRange: [-4, 79] }
];

Chart.defaults.font.family = '"Liberation Sans", Arial, sans-serif';

// whiskers, medians and the |S| = 25 reference line, drawn through the chart's own scales
const boxPlugin = {
  id: 'boxes',
  beforeDatasetsDraw(chart, args, opts) {
    const { ctx, chartArea, scales: { y } } = chart;
    ctx.save();
    if (opts.refLine != null) {
      const yy = y.getPixelForValue(opts.refLine);
      ctx.strokeStyle = '#111';
      ctx.lineWidth = 0.7;
      ctx.beginPath();
      ctx.moveTo(chartArea.left, yy);
      ctx.lineTo(chartArea.right, yy);
      ctx.stroke();
    }
    ctx.strokeStyle = '#999';
    ctx.lineWidth = 0.7;
    chart.data.datasets.forEach((ds, di) => {
      const meta = chart.getDatasetMeta(di);
      ds.boxes.forEach((b, i) => {
        const bar = meta.data[i];
        ctx.beginPath();
        ctx.moveTo(bar.x, y.getPixelForValue(b[0]));
        ctx.lineTo(bar.x, y.getPixelForValue(b[4]));
        ctx.stroke();
      });
    });
    ctx.restore();
  },
  afterDatasetsDraw(chart) {
    const { ctx, scales: { y } } = chart;
    ctx.save();
    ctx.strokeStyle = '#111';
    ctx.lineWidth = 0.9;
    chart.data.datasets.forEach((ds, di) => {
      const meta = chart.getDatasetMeta(di);
      ds.boxes.forEach((b, i) => {
        const bar = meta.data[i];
        const yy = y.getPixelForValue(b[2]);
        ctx.beginPath();
        ctx.moveTo(bar.x - bar.width / 2, yy);
        ctx.lineTo(bar.x + bar.width / 2, yy);
        ctx.stroke();
      });
    });
    ctx.restore();
  }
};

const fig = document.getElementById('fig');

function addEl(cls, left, top, w, h, html) {
  const d = document.createElement('div');
  d.className = cls;
  d.style.left = left + 'px';
  d.style.top = top + 'px';
  if (w) d.style.width = w + 'px';
  if (h) d.style.height = h + 'px';
  d.innerHTML = html;
  fig.appendChild(d);
  return d;
}

function tickText(v) {
  return v === 1 ? '1.0' : String(v);
}

panels.forEach(p => {
  addEl('letter', p.ox + 1, p.oy + p.ly, 0, 0, p.letter);
  const head = addEl('frame', p.ox + 23, p.oy + 1, 310, 14,
    '<span>Stabl<span class="sub">' + p.sub + '</span><span class="dot red"></span>vs. ' + p.rival +
    '<span class="dot grey"></span></span>');
  head.style.fontSize = '7px';
  columns.forEach((name, c) => {
    const el = addEl('frame', p.ox + colX[c][0], p.oy + 18, colX[c][1] - colX[c][0], 14, name);
    el.style.fontSize = '5.2px';
  });
  addEl('xtitle', p.ox + 78, p.oy + 359, 200, 0, 'Number of samples');

  p.rows.forEach((pair, r) => {
    const ticks = r === 0 ? p.sizeTicks : (r === 3 ? rmseTicks : rateTicks);
    const range = r === 0 ? p.sizeRange : (r === 3 ? [-0.08, 1.58] : [-0.05, 1.05]);
    for (let c = 0; c < 4; c++) {
      const [x0, x1] = colX[c];
      const lm = c === 0 ? 23 : 2;
      const bm = r === 3 ? 16 : 3;
      const w = lm + (x1 - x0) + 2;
      const h = 2 + rowH + bm;
      const canvas = document.createElement('canvas');
      canvas.width = w;
      canvas.height = h;
      canvas.style.left = (p.ox + x0 - lm) + 'px';
      canvas.style.top = (p.oy + rowTop[r] - 2) + 'px';
      canvas.style.width = w + 'px';
      canvas.style.height = h + 'px';
      fig.appendChild(canvas);

      const stabl = pair[0][c];
      const other = pair[1][c];
      new Chart(canvas, {
        type: 'bar',
        data: {
          labels: samples,
          datasets: [
            { data: stabl.map(b => [b[1], b[3]]), boxes: stabl, backgroundColor: RED,
              borderColor: '#6e0a18', borderWidth: 0.5, borderSkipped: false },
            { data: other.map(b => [b[1], b[3]]), boxes: other, backgroundColor: GREY,
              borderColor: '#4a4a4a', borderWidth: 0.5, borderSkipped: false }
          ]
        },
        options: {
          responsive: false,
          maintainAspectRatio: false,
          animation: false,
          devicePixelRatio: 1,
          events: [],
          layout: { padding: { left: 0, top: 2, right: 2, bottom: 0 } },
          datasets: { bar: { categoryPercentage: 0.8, barPercentage: 1 } },
          plugins: {
            legend: { display: false },
            tooltip: { enabled: false },
            boxes: { refLine: r === 0 ? 25 : null }
          },
          scales: {
            x: {
              type: 'category',
              offset: true,
              afterFit: s => { s.height = bm; },
              grid: { display: true, drawOnChartArea: false, drawTicks: true, tickLength: 2, offset: false, color: '#333', lineWidth: 0.7 },
              border: { display: true, color: '#222', width: 0.8 },
              ticks: { display: r === 3, autoSkip: false, minRotation: 90, maxRotation: 90, padding: 1,
                       font: { size: 5 }, color: '#444' }
            },
            y: {
              type: 'linear',
              min: range[0],
              max: range[1],
              afterBuildTicks: s => { s.ticks = ticks.map(v => ({ value: v })); },
              afterFit: s => { s.width = lm; },
              grid: { display: c === 0, drawOnChartArea: false, drawTicks: true, tickLength: 2, color: '#333', lineWidth: 0.7 },
              border: { display: true, color: '#222', width: 0.8 },
              ticks: { display: c === 0, autoSkip: false, padding: 1, font: { size: 4.8 }, color: '#444', callback: tickText },
              title: { display: c === 0, text: metrics[r], color: '#000', padding: { top: 3, bottom: 0 },
                       font: { size: 8, weight: r === 0 ? 'normal' : 'bold' } }
            }
          }
        },
        plugins: [boxPlugin]
      });
    }
  });
});
</script>
</body>
</html>
